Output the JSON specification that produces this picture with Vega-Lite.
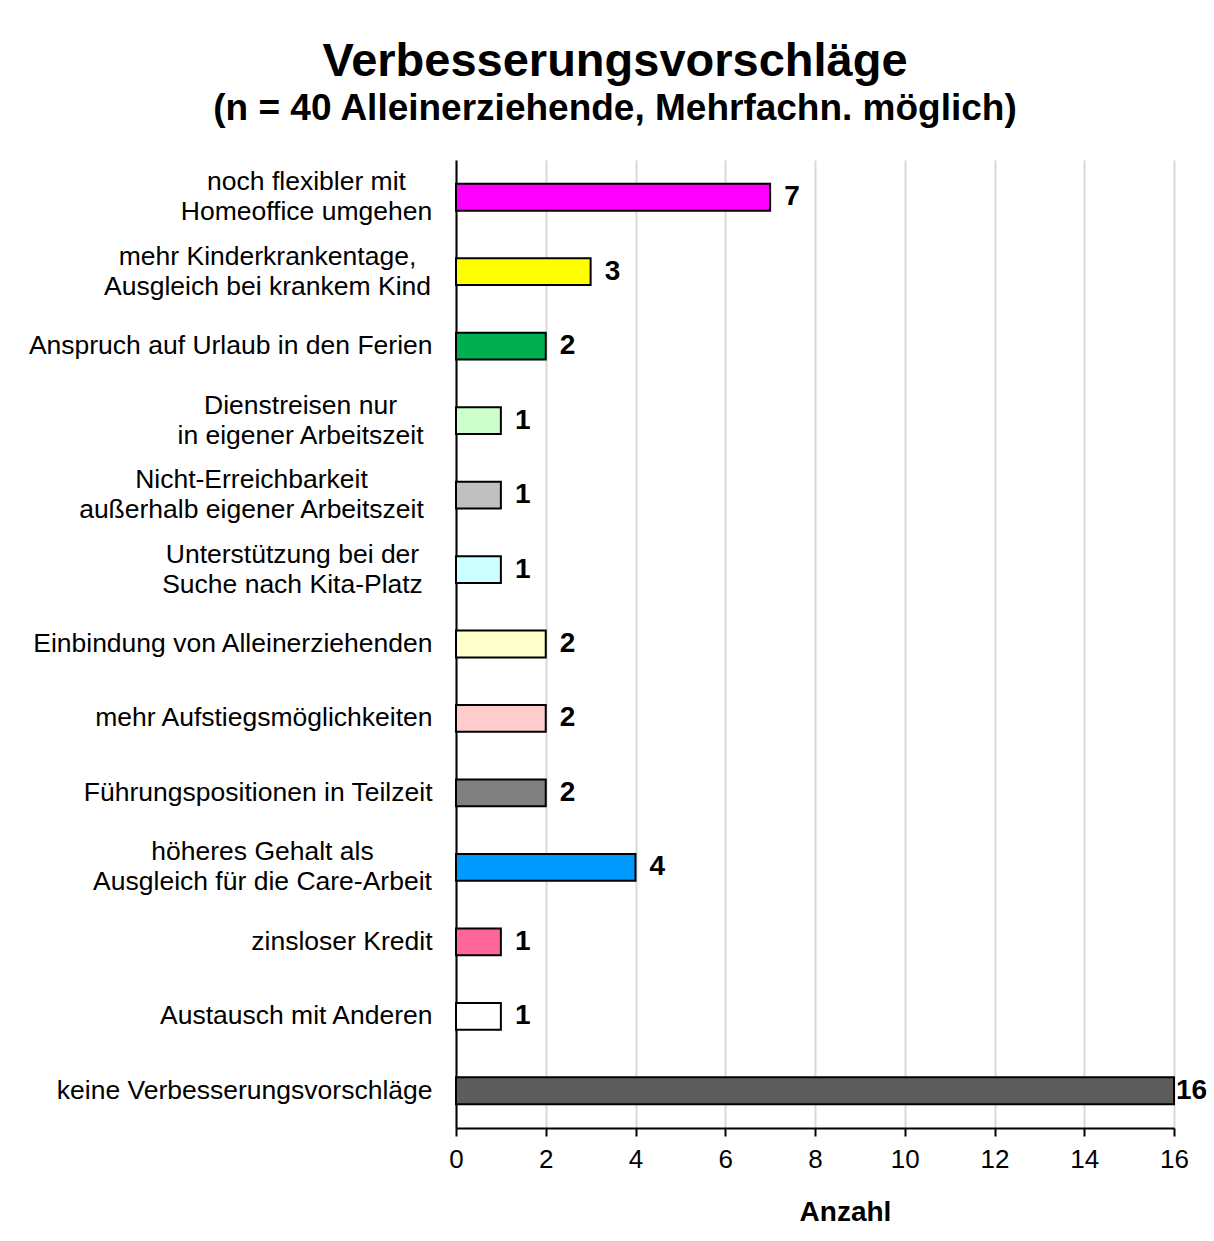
{
  "$schema": "https://vega.github.io/schema/vega-lite/v6.json",
  "width": 718,
  "height": 968,
  "autosize": {"type": "none"},
  "padding": {"left": 456, "top": 160, "right": 40, "bottom": 113},
  "background": "white",
  "config": {"view": {"stroke": null}},
  "title": {
    "text": "Verbesserungsvorschläge",
    "subtitle": "(n = 40 Alleinerziehende, Mehrfachn. möglich)",
    "anchor": "middle",
    "frame": "group",
    "dx": -200,
    "offset": 32,
    "font": "Liberation Sans",
    "fontSize": 47,
    "fontWeight": "bold",
    "color": "black",
    "subtitleFont": "Liberation Sans",
    "subtitleFontSize": 37,
    "subtitleFontWeight": "bold",
    "subtitleColor": "black",
    "subtitlePadding": 5
  },
  "data": {
    "values": [
      {"label": "noch flexibler mit|Homeoffice umgehen", "count": 7},
      {"label": "mehr Kinderkrankentage,|Ausgleich bei krankem Kind", "count": 3},
      {"label": "Anspruch auf Urlaub in den Ferien", "count": 2},
      {"label": "Dienstreisen nur|in eigener Arbeitszeit", "count": 1},
      {"label": "Nicht-Erreichbarkeit|außerhalb eigener Arbeitszeit", "count": 1},
      {"label": "Unterstützung bei der|Suche nach Kita-Platz", "count": 1},
      {"label": "Einbindung von Alleinerziehenden", "count": 2},
      {"label": "mehr Aufstiegsmöglichkeiten", "count": 2},
      {"label": "Führungspositionen in Teilzeit", "count": 2},
      {"label": "höheres Gehalt als|Ausgleich für die Care-Arbeit", "count": 4},
      {"label": "zinsloser Kredit", "count": 1},
      {"label": "Austausch mit Anderen", "count": 1},
      {"label": "keine Verbesserungsvorschläge", "count": 16}
    ]
  },
  "encoding": {
    "y": {
      "field": "label",
      "type": "nominal",
      "sort": null,
      "scale": {"paddingInner": 0.64, "paddingOuter": 0.32},
      "axis": {
        "title": null,
        "ticks": false,
        "grid": false,
        "domainColor": "black",
        "domainWidth": 2,
        "labelFont": "Liberation Sans",
        "labelFontSize": 26.5,
        "labelColor": "black",
        "labelLimit": 600,
        "labelLineHeight": 30,
        "labelExpr": "split(datum.value, '|')",
        "labelAlign": {"condition": {"test": "indexof(datum.value, '|') >= 0", "value": "center"}, "value": "right"},
        "labelOffset": {"condition": {"test": "indexof(datum.value, '|') >= 0", "value": -15}, "value": 0},
        "labelPadding": {
          "condition": [
            {"test": "datum.value == 'noch flexibler mit|Homeoffice umgehen'", "value": 150},
            {"test": "datum.value == 'mehr Kinderkrankentage,|Ausgleich bei krankem Kind'", "value": 189},
            {"test": "datum.value == 'Dienstreisen nur|in eigener Arbeitszeit'", "value": 156},
            {"test": "datum.value == 'Nicht-Erreichbarkeit|außerhalb eigener Arbeitszeit'", "value": 205},
            {"test": "datum.value == 'Unterstützung bei der|Suche nach Kita-Platz'", "value": 164},
            {"test": "datum.value == 'höheres Gehalt als|Ausgleich für die Care-Arbeit'", "value": 194}
          ],
          "value": 24
        }
      }
    }
  },
  "layer": [
    {
      "mark": {"type": "bar", "stroke": "black", "strokeWidth": 2},
      "encoding": {
        "x": {
          "field": "count",
          "type": "quantitative",
          "scale": {"domain": [0, 16], "nice": false},
          "axis": {
            "title": "Anzahl",
            "values": [0, 2, 4, 6, 8, 10, 12, 14, 16],
            "titleFont": "Liberation Sans",
            "titleFontSize": 28,
            "titleFontWeight": "bold",
            "titleColor": "black",
            "titlePadding": 26,
            "titleX": 389,
            "labelFont": "Liberation Sans",
            "labelFontSize": 26,
            "labelColor": "black",
            "labelPadding": 10,
            "labelFlush": false,
            "domainColor": "black",
            "domainWidth": 2,
            "tickColor": "black",
            "tickWidth": 2,
            "tickSize": 8,
            "gridColor": "#D9D9D9",
            "gridWidth": 2
          }
        },
        "color": {
          "field": "label",
          "type": "nominal",
          "legend": null,
          "scale": {
            "domain": [
              "noch flexibler mit|Homeoffice umgehen",
              "mehr Kinderkrankentage,|Ausgleich bei krankem Kind",
              "Anspruch auf Urlaub in den Ferien",
              "Dienstreisen nur|in eigener Arbeitszeit",
              "Nicht-Erreichbarkeit|außerhalb eigener Arbeitszeit",
              "Unterstützung bei der|Suche nach Kita-Platz",
              "Einbindung von Alleinerziehenden",
              "mehr Aufstiegsmöglichkeiten",
              "Führungspositionen in Teilzeit",
              "höheres Gehalt als|Ausgleich für die Care-Arbeit",
              "zinsloser Kredit",
              "Austausch mit Anderen",
              "keine Verbesserungsvorschläge"
            ],
            "range": ["#FF00FF", "#FFFF00", "#00B050", "#CCFFCC", "#C0C0C0", "#CCFFFF", "#FFFFCC", "#FFCCCC", "#808080", "#0099FF", "#FF6699", "#FFFFFF", "#5C5C5C"]
          }
        }
      }
    },
    {
      "mark": {
        "type": "text",
        "align": "left",
        "baseline": "middle",
        "font": "Liberation Sans",
        "fontSize": 28,
        "fontWeight": "bold",
        "color": "black",
        "dx": {"expr": "datum.count >= 16 ? 2 : 14"}
      },
      "encoding": {
        "x": {"field": "count", "type": "quantitative"},
        "text": {"field": "count", "type": "quantitative"}
      }
    }
  ]
}
